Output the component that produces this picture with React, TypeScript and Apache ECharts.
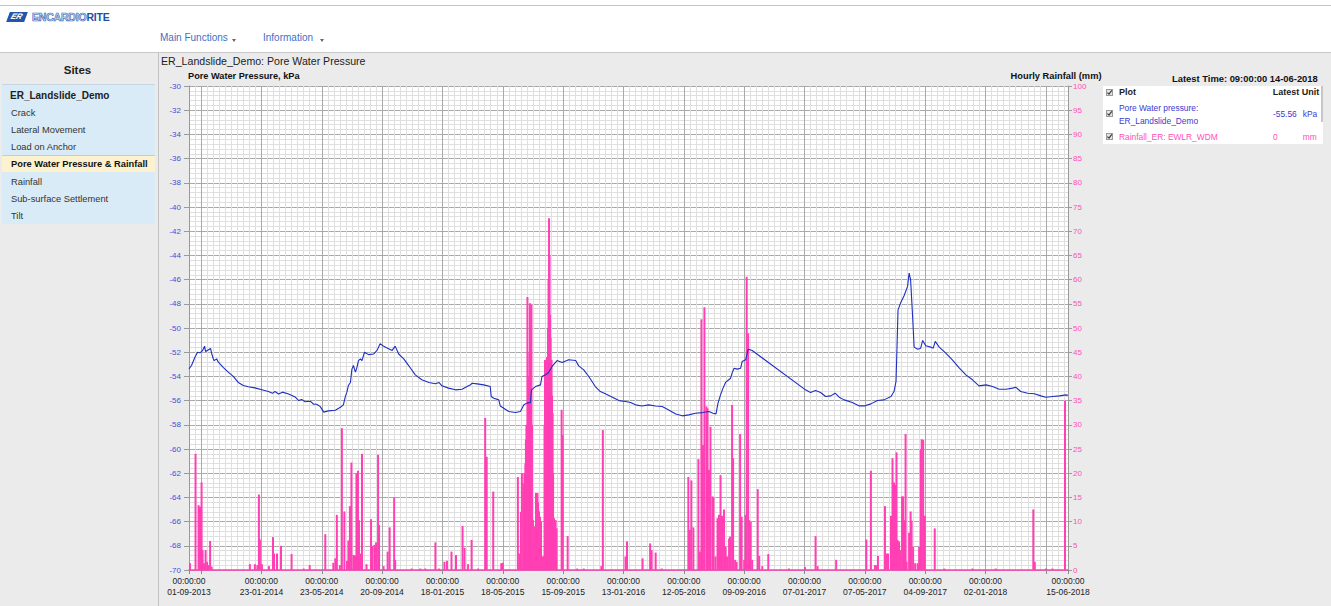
import { useEffect, useRef } from 'react';
import * as echarts from 'echarts';

// ---------- data ----------
// x values are day numbers counted from 01-09-2013 (the first date on the axis)
const axisStartDate = '01-09-2013';
const axisEndDate = '15-06-2018';
const xLabelDates = ['01-09-2013', '23-01-2014', '23-05-2014', '20-09-2014', '18-01-2015', '18-05-2015', '15-09-2015', '13-01-2016', '12-05-2016', '09-09-2016', '07-01-2017', '07-05-2017', '04-09-2017', '02-01-2018', '15-06-2018'];
const xUnlabelledTickDates = ['25-09-2013', '02-05-2018'];

const pwpMin = -70;
const pwpMax = -30;
const pwpStep = 2;
const rainMin = 0;
const rainMax = 100;
const rainStep = 5;

// Pore water pressure, kPa: [day, value]
const porePressure: [number, number][] = [
  [0, -53.38], [5, -53.1], [12, -52.4], [17, -52.0], [22, -52.05], [27, -51.86], [31, -51.5], [33, -51.95], [39, -51.8], [43, -51.7],
  [45, -52.1], [48, -52.5], [50, -52.7], [55, -52.55], [58, -52.8], [68, -53.25], [78, -53.65], [88, -54.0], [98, -54.5], [108, -54.75],
  [118, -54.85], [131, -54.95], [145, -55.1], [158, -55.25], [166, -55.4], [171, -55.25], [178, -55.45], [186, -55.3], [198, -55.45], [211, -55.7],
  [218, -56.0], [224, -55.9], [231, -56.1], [241, -56.05], [248, -56.3], [254, -56.3], [261, -56.5], [268, -56.95], [277, -56.85], [291, -56.8],
  [301, -56.55], [307, -56.35], [311, -55.65], [314, -55.3], [317, -54.75], [321, -54.5], [324, -53.4], [327, -53.1], [331, -53.65], [334, -53.25],
  [337, -52.7], [341, -52.55], [344, -52.7], [349, -52.0], [357, -52.2], [367, -52.15], [374, -51.85], [380, -51.3], [387, -51.5], [394, -51.65],
  [404, -51.85], [410, -51.5], [417, -52.15], [427, -52.55], [434, -52.95], [441, -53.35], [450, -53.87], [463, -54.28], [477, -54.5], [490, -54.61],
  [497, -54.5], [503, -54.78], [516, -54.97], [530, -55.11], [543, -55.06], [553, -54.84], [560, -54.7], [563, -54.56], [573, -54.62], [586, -54.7],
  [599, -54.84], [601, -55.66], [606, -55.8], [616, -55.94], [619, -56.44], [629, -56.71], [636, -56.9], [649, -56.99], [659, -56.9], [666, -56.35],
  [672, -56.21], [679, -56.16], [681, -55.11], [689, -54.84], [699, -54.7], [702, -54.01], [709, -53.87], [715, -53.68], [722, -53.18], [732, -52.69],
  [742, -52.85], [755, -52.63], [769, -52.69], [775, -53.13], [785, -53.46], [795, -54.01], [808, -54.84], [818, -55.25], [828, -55.44], [842, -55.72],
  [855, -56.0], [868, -56.08], [878, -56.16], [888, -56.35], [901, -56.44], [914, -56.35], [928, -56.44], [941, -56.49], [954, -56.77], [968, -57.1],
  [981, -57.26], [994, -57.18], [1007, -57.04], [1021, -56.99], [1034, -56.9], [1042, -57.04], [1048, -57.1], [1052, -56.21], [1057, -55.53], [1062, -54.97],
  [1067, -54.5], [1077, -54.15], [1080, -53.73], [1084, -53.32], [1090, -53.4], [1097, -53.32], [1100, -52.77], [1107, -52.63], [1112, -51.75], [1120, -51.86],
  [1226, -55.11], [1236, -55.33], [1246, -55.17], [1256, -55.33], [1266, -55.66], [1276, -55.61], [1285, -55.39], [1293, -55.72], [1303, -55.94], [1319, -56.16],
  [1333, -56.44], [1343, -56.44], [1356, -56.27], [1369, -55.99], [1382, -55.94], [1396, -55.66], [1402, -55.25], [1406, -54.42], [1408, -51.53], [1410, -48.5],
  [1415, -47.94], [1422, -47.34], [1429, -46.56], [1432, -45.46], [1435, -46.01], [1439, -49.05], [1442, -51.58], [1449, -51.75], [1455, -51.67], [1459, -51.03],
  [1465, -51.47], [1475, -51.58], [1480, -51.67], [1484, -51.11], [1492, -51.58], [1505, -52.08], [1518, -52.63], [1532, -53.32], [1545, -53.87], [1558, -54.28],
  [1571, -54.78], [1585, -54.7], [1598, -54.84], [1611, -55.06], [1625, -55.06], [1638, -54.97], [1644, -54.89], [1654, -55.25], [1668, -55.39], [1681, -55.44],
  [1694, -55.61], [1704, -55.72], [1717, -55.66], [1731, -55.61], [1744, -55.53], [1748, -55.56],
];

// Hourly rainfall, mm: [day, value]
const rainfall: [number, number][] = [
  [2, 1.4], [13, 24.0], [19, 13.4], [22, 13.1], [25, 18.1], [27, 4.1], [30, 1.4], [33, 4.1], [36, 1.7], [39, 1.0], [42, 6.0], [45, 0.7],
  [121, 1.2], [131, 1.2], [136, 1.0], [139, 15.6], [141, 6.3], [145, 1.2], [159, 0.8], [167, 6.8], [169, 3.4], [175, 3.4], [183, 5.0], [204, 3.3], [228, 0.3], [240, 1.0],
  [271, 7.4], [287, 1.5], [291, 2.4], [294, 11.4], [300, 1.0], [304, 29.3], [309, 12.1], [314, 1.9], [317, 6.1], [320, 13.2], [323, 22.2], [327, 3.1], [330, 3.0],
  [333, 20.0], [336, 20.5], [338, 10.3], [341, 3.4], [344, 24.0], [353, 1.2], [362, 10.5], [365, 5.0], [369, 5.2], [372, 5.7], [376, 23.8], [378, 9.3], [387, 0.8],
  [395, 3.8], [399, 8.8], [408, 15.0], [410, 2.1],
  [443, 0.3], [460, 0.3], [470, 0.3], [490, 5.7], [497, 0.3], [508, 1.7], [513, 1.9], [522, 3.8], [531, 3.1], [544, 9.1], [548, 4.6], [555, 1.2], [562, 6.2], [575, 0.3],
  [589, 31.4], [592, 23.4], [605, 16.2], [621, 1.4], [624, 1.5],
  [654, 19.2], [657, 3.4], [660, 12], [662, 20.0], [665, 17.9], [667, 20], [669, 22], [670, 26.9], [671, 30], [673, 56.4], [674, 40], [676, 37.2], [677, 45], [678, 55.1],
  [680, 50], [681, 54.8], [682, 30], [684, 10.3], [686, 2.8], [688, 9], [690, 15.9], [692, 13], [693, 15.9], [694, 14], [696, 12.1], [698, 11], [700, 10.0], [703, 2.8],
  [705, 2.8], [707, 30], [708, 43.4], [710, 38.6], [711, 35], [712, 44], [713, 42.0], [714, 50], [715, 60], [716, 72.7], [717, 65], [718, 52.7], [719, 48], [721, 43.4],
  [722, 36], [723, 32.4], [724, 20], [726, 10.7], [727, 9], [729, 10.3], [731, 8.6], [741, 33.1], [743, 27.9], [753, 7.0], [772, 0.3], [785, 0.3], [820, 0.8], [823, 28.9],
  [868, 2.8], [871, 5.9], [902, 2.4], [917, 5.5], [920, 4.1], [928, 3.6], [940, 0.3],
  [993, 19.2], [996, 8.3], [999, 18.5], [1003, 8.8], [1013, 22.9], [1016, 3.8], [1019, 51.8], [1022, 25.8], [1025, 54.3], [1029, 33.8], [1031, 33.4], [1034, 20.7],
  [1037, 29.6], [1041, 15.2], [1043, 15.0], [1047, 2.8], [1051, 10.7], [1054, 11.4], [1057, 19.6], [1060, 11.2], [1064, 12.5], [1067, 4.8], [1070, 2.8], [1074, 6.5],
  [1076, 6.9], [1080, 34.1], [1082, 23.1], [1086, 2.1], [1089, 1.7], [1096, 28.1], [1099, 11.0], [1104, 2.1], [1107, 11.4], [1109, 60.6], [1112, 48.9], [1114, 10.3],
  [1117, 10.0], [1120, 2.1], [1131, 16.7], [1134, 2.9], [1140, 0.8], [1152, 3.3], [1193, 0.3], [1225, 0.6], [1246, 7.0], [1250, 0.8], [1287, 2.1],
  [1347, 6.3], [1356, 20.5], [1364, 1.0], [1367, 1.0], [1370, 2.9], [1384, 13.2], [1387, 3.4], [1390, 3.4], [1396, 11.2], [1399, 23.1], [1402, 18.1], [1404, 17.6],
  [1407, 24.3], [1409, 6.2], [1412, 5.9], [1414, 4.1], [1418, 15.2], [1420, 15.2], [1422, 10.3], [1425, 28.1], [1427, 1.7], [1432, 7.7], [1435, 12.1], [1437, 10.2],
  [1440, 4.8], [1444, 1.4], [1449, 1.4], [1452, 4.8], [1455, 24.9], [1457, 27.0], [1460, 26.9], [1463, 11.2], [1483, 8.6], [1502, 0.3], [1558, 0.3], [1604, 0.3],
  [1679, 12.5], [1682, 1.7], [1704, 0.3], [1717, 0.3], [1742, 35.0],
];

const sidebarItems = ['Crack', 'Lateral Movement', 'Load on Anchor', 'Pore Water Pressure & Rainfall', 'Rainfall', 'Sub-surface Settlement', 'Tilt'];
const selectedItem = 'Pore Water Pressure & Rainfall';

// ---------- helpers ----------
const DAY_MS = 86400000;
const parseDMY = (s: string) => {
  const [d, m, y] = s.split('-').map(Number);
  return Date.UTC(y, m - 1, d);
};
const START = parseDMY(axisStartDate);
const dayOf = (s: string) => Math.round((parseDMY(s) - START) / DAY_MS);
const pad = (n: number) => String(n).padStart(2, '0');
const fmtDay = (v: number) => {
  const d = new Date(START + Math.round(v) * DAY_MS);
  return `${pad(d.getUTCDate())}-${pad(d.getUTCMonth() + 1)}-${d.getUTCFullYear()}`;
};

const FONT = '"Liberation Sans", Arial, Helvetica, sans-serif';
const PINK = '#ff3fb3';
const BLUE = '#1f2fbf';
const MAJOR = '#a9a9a9';
const MINOR = '#dfdfdf';

function Txt(props: { x: number; cy: number; size: number; bold?: boolean; color?: string; children: any }) {
  const { x, cy, size, bold, color, children } = props;
  return (
    <div style={{ position: 'absolute', left: x, top: cy - 7, height: 14, lineHeight: '14px', fontSize: size, fontWeight: bold ? 700 : 400, color: color || '#222', whiteSpace: 'nowrap' }}>
      {children}
    </div>
  );
}

function Check(props: { x: number; y: number }) {
  return (
    <div style={{ position: 'absolute', left: props.x, top: props.y, width: 7, height: 7, background: '#e4e4e4', border: '1px solid #9a9a9a', boxSizing: 'border-box' }}>
      <svg width="7" height="7" style={{ position: 'absolute', left: -1, top: -1 }}>
        <polyline points="1.4,3.6 3,5.2 5.8,1.4" fill="none" stroke="#3a3a3a" strokeWidth="1.2" />
      </svg>
    </div>
  );
}

function Caret(props: { x: number; y: number }) {
  return (
    <div style={{ position: 'absolute', left: props.x, top: props.y, width: 0, height: 0, borderLeft: '2.5px solid transparent', borderRight: '2.5px solid transparent', borderTop: '3px solid #666' }} />
  );
}

export default function App() {
  const ref = useRef<HTMLDivElement>(null);

  useEffect(() => {
    if (!ref.current) return;
    const chart = echarts.init(ref.current, undefined, { renderer: 'svg' });
    const endDay = dayOf(axisEndDate);
    const labelDays = xLabelDates.map(dayOf);
    const tickDays = [...labelDays, ...xUnlabelledTickDates.map(dayOf)].sort((a, b) => a - b);
    const xGridColors = [MINOR, MINOR, MAJOR, MINOR, MINOR, MINOR, MINOR, MINOR, MINOR, MINOR];
    const yGridColors = [MAJOR, MINOR, MINOR, MINOR, MINOR];

    const option: any = {
      animation: false,
      textStyle: { fontFamily: FONT },
      grid: { left: 189, right: 263, top: 86, bottom: 36, show: true, backgroundColor: '#ffffff', borderWidth: 0, containLabel: false },
      xAxis: [
        {
          type: 'value', min: 0, max: endDay, interval: 12, position: 'bottom',
          axisLine: { show: true, onZero: false, lineStyle: { color: PINK, width: 1.5 } },
          axisTick: { show: false }, axisLabel: { show: false },
          splitLine: { show: true, lineStyle: { color: xGridColors, width: 1 } },
        },
        {
          type: 'value', min: 0, max: endDay, position: 'bottom',
          axisLine: { show: false, onZero: false },
          axisTick: { show: true, customValues: tickDays, length: 4, lineStyle: { color: '#8a8a8a' } },
          axisLabel: {
            show: true, customValues: labelDays, margin: 6, fontSize: 8.5, lineHeight: 10.6, color: '#222', fontFamily: FONT,
            formatter: (v: number) => `00:00:00\n${fmtDay(v)}`,
          },
          splitLine: { show: false },
        },
      ],
      yAxis: [
        {
          type: 'value', position: 'left', min: pwpMin, max: pwpMax, interval: pwpStep,
          axisLine: { show: true, onZero: false, lineStyle: { color: '#9a9a9a' } },
          axisTick: { show: true, length: 5, lineStyle: { color: '#9a9a9a' } },
          axisLabel: { color: '#4b4bd8', fontSize: 8, margin: 8, fontFamily: FONT },
          splitLine: { show: false },
        },
        {
          type: 'value', position: 'right', min: rainMin, max: rainMax, interval: rainStep,
          axisLine: { show: true, onZero: false, lineStyle: { color: '#9a9a9a' } },
          axisTick: { show: true, length: 4, lineStyle: { color: '#9a9a9a' } },
          axisLabel: { color: '#ff4fb8', fontSize: 8, margin: 5, fontFamily: FONT },
          splitLine: { show: false },
        },
        {
          type: 'value', position: 'right', min: rainMin, max: rainMax, interval: 1,
          axisLine: { show: false, onZero: false }, axisTick: { show: false }, axisLabel: { show: false },
          splitLine: { show: true, lineStyle: { color: yGridColors, width: 1 } },
        },
      ],
      graphic: [
        { type: 'text', x: 161, y: 61, style: { text: 'ER_Landslide_Demo: Pore Water Pressure', fontSize: 10.6, fontFamily: FONT, fill: '#222', align: 'left', verticalAlign: 'middle' } },
        { type: 'text', x: 188, y: 76, style: { text: 'Pore Water Pressure, kPa', fontSize: 9.2, fontWeight: 'bold', fontFamily: FONT, fill: '#111', align: 'left', verticalAlign: 'middle' } },
        { type: 'text', x: 1101.5, y: 76, style: { text: 'Hourly Rainfall (mm)', fontSize: 9.3, fontWeight: 'bold', fontFamily: FONT, fill: '#111', align: 'right', verticalAlign: 'middle' } },
        { type: 'text', x: 1172, y: 78, style: { text: 'Latest Time: 09:00:00 14-06-2018', fontSize: 9.4, fontWeight: 'bold', fontFamily: FONT, fill: '#111', align: 'left', verticalAlign: 'middle' } },
      ],
      series: [
        {
          name: 'Rainfall_ER: EWLR_WDM', type: 'bar', xAxisIndex: 0, yAxisIndex: 1, barWidth: 2,
          data: rainfall, itemStyle: { color: PINK }, z: 2,
        },
        {
          name: 'Pore Water pressure: ER_Landslide_Demo', type: 'line', xAxisIndex: 0, yAxisIndex: 0,
          data: porePressure, showSymbol: false, symbol: 'none', lineStyle: { color: BLUE, width: 1.1 }, z: 3,
        },
      ],
    };
    chart.setOption(option);
    return () => chart.dispose();
  }, []);

  const itemCenters = [113.3, 130, 146.5, 164, 181.5, 198.5, 215.5];

  return (
    <div style={{ position: 'fixed', left: 0, top: 0, width: 1331, height: 606, overflow: 'hidden', background: '#ffffff', fontFamily: FONT }}>
      {/* header */}
      <div style={{ position: 'absolute', left: 0, top: 5, width: 1331, height: 1, background: '#c4c4c4' }} />
      <div style={{ position: 'absolute', left: 8, top: 12, width: 18, height: 10, background: '#2456a8', transform: 'skewX(-20deg)', overflow: 'hidden' }}>
        <div style={{ position: 'absolute', left: 3, top: 0, fontSize: 8, lineHeight: '10px', fontWeight: 700, fontStyle: 'italic', color: '#fff' }}>ER</div>
      </div>
      <div style={{ position: 'absolute', left: 32, top: 10, height: 14, lineHeight: '14px', fontSize: 10.5, fontWeight: 700, letterSpacing: -0.2, whiteSpace: 'nowrap' }}>
        <span style={{ color: '#d4e3f6', WebkitTextStroke: '0.6px #2d5db3' }}>ENCARDIO</span>
        <span style={{ color: '#1f4fa5' }}>RITE</span>
      </div>
      <Txt x={160} cy={38} size={10} color="#3f6fc6">Main Functions</Txt>
      <Caret x={232} y={39} />
      <Txt x={263} cy={38} size={10} color="#3f6fc6">Information</Txt>
      <Caret x={320} y={39} />
      <div style={{ position: 'absolute', left: 0, top: 52, width: 1331, height: 1, background: '#c8c8c8' }} />
      <div style={{ position: 'absolute', left: 0, top: 53, width: 1331, height: 553, background: '#ebebeb' }} />

      {/* sidebar */}
      <div style={{ position: 'absolute', left: 0, top: 63, width: 155, height: 14, lineHeight: '14px', textAlign: 'center', fontSize: 11.5, fontWeight: 700, color: '#222' }}>Sites</div>
      <div style={{ position: 'absolute', left: 2, top: 84, width: 153, height: 140, background: '#d9ebf6', borderTop: '1px solid #c5d6e2', boxSizing: 'border-box' }} />
      <div style={{ position: 'absolute', left: 2, top: 155, width: 153, height: 17, background: '#fdf2cf', borderTop: '1px solid #d2ccb6', boxSizing: 'border-box' }} />
      <Txt x={10} cy={96} size={10} bold>ER_Landslide_Demo</Txt>
      {sidebarItems.map((s, i) => (
        <Txt key={s} x={11} cy={itemCenters[i]} size={9.3} bold={s === selectedItem} color={s === selectedItem ? '#111' : '#333'}>{s}</Txt>
      ))}
      <div style={{ position: 'absolute', left: 158, top: 53, width: 1, height: 553, background: '#c2c2c2' }} />

      {/* chart */}
      <div ref={ref} style={{ position: 'absolute', left: 0, top: 0, width: 1331, height: 606 }} />

      {/* legend panel */}
      <div style={{ position: 'absolute', left: 1103, top: 86, width: 220, height: 58, background: '#ffffff' }} />
      <div style={{ position: 'absolute', left: 1321, top: 86, width: 2, height: 36, background: '#c6c6c6' }} />
      <Check x={1106} y={89} />
      <Txt x={1119} cy={92.3} size={9} bold>Plot</Txt>
      <Txt x={1272.7} cy={92.3} size={9} bold>Latest</Txt>
      <Txt x={1301.7} cy={92.3} size={9} bold>Unit</Txt>
      <Check x={1106} y={110} />
      <Txt x={1119} cy={107.7} size={8.4} color="#3b3bd0">Pore Water pressure:</Txt>
      <Txt x={1119} cy={121} size={8.4} color="#3b3bd0">ER_Landslide_Demo</Txt>
      <Txt x={1273} cy={114} size={8.4} color="#3b3bd0">-55.56</Txt>
      <Txt x={1302.7} cy={114} size={8.4} color="#3b3bd0">kPa</Txt>
      <Check x={1106} y={133} />
      <Txt x={1119} cy={136.7} size={8.4} color="#ff4fb8">Rainfall_ER: EWLR_WDM</Txt>
      <Txt x={1273} cy={136.7} size={8.4} color="#ff4fb8">0</Txt>
      <Txt x={1302.7} cy={136.7} size={8.4} color="#ff4fb8">mm</Txt>
    </div>
  );
}
